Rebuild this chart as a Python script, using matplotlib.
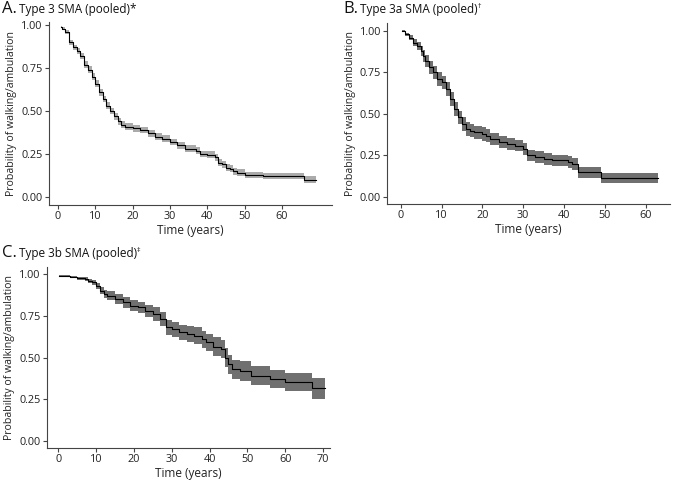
import numpy as np
import matplotlib
matplotlib.use("Agg")
import matplotlib.pyplot as plt

plt.rcParams['font.family'] = ['Open Sans', 'DejaVu Sans']

# Kaplan-Meier estimates (time, survival, CI half width)
# Panel A: Type 3 SMA (pooled)
a_time = [0.8, 1, 2, 3, 4, 5, 6, 7, 8, 9, 10, 11, 12, 13, 14, 15, 16, 17, 18, 20,
          22, 24, 26, 28, 30, 32, 34, 36, 37, 38, 40, 42, 43, 44, 45, 46, 47, 48,
          50, 55, 66]
a_surv = [0.99, 0.98, 0.96, 0.90, 0.87, 0.85, 0.82, 0.77, 0.74, 0.70, 0.66, 0.61,
          0.57, 0.53, 0.50, 0.47, 0.44, 0.42, 0.41, 0.40, 0.39, 0.37, 0.35, 0.34,
          0.32, 0.30, 0.28, 0.28, 0.27, 0.25, 0.245, 0.23, 0.20, 0.19, 0.17, 0.165,
          0.15, 0.14, 0.13, 0.12, 0.10]
a_half = [0.005, 0.008, 0.01, 0.015, 0.015, 0.018, 0.018, 0.02, 0.02, 0.02, 0.02,
          0.02, 0.02, 0.02, 0.02, 0.02, 0.02, 0.02, 0.02, 0.02, 0.02, 0.02, 0.02,
          0.02, 0.02, 0.02, 0.02, 0.02, 0.02, 0.02, 0.02, 0.02, 0.02, 0.02, 0.02,
          0.02, 0.02, 0.02, 0.018, 0.018, 0.02]
a_end = 69

# Panel B: Type 3a SMA (pooled)
b_time = [0.2, 1, 2, 3, 4, 5, 5.5, 6, 7, 8, 9, 10, 11, 12, 13, 14, 15, 16, 17, 18,
          20, 21, 22, 24, 26, 28, 30, 31, 33, 35, 37, 40, 41, 42, 43.5, 49]
b_surv = [1.00, 0.98, 0.96, 0.93, 0.91, 0.88, 0.85, 0.82, 0.78, 0.75, 0.71, 0.69,
          0.65, 0.59, 0.53, 0.48, 0.44, 0.41, 0.40, 0.39, 0.38, 0.37, 0.35, 0.33,
          0.32, 0.31, 0.29, 0.25, 0.24, 0.23, 0.22, 0.22, 0.21, 0.20, 0.15, 0.115]
b_half = [0.005, 0.01, 0.015, 0.02, 0.025, 0.03, 0.035, 0.035, 0.04, 0.04, 0.04,
          0.04, 0.04, 0.04, 0.04, 0.04, 0.04, 0.04, 0.04, 0.04, 0.04, 0.04, 0.035,
          0.035, 0.035, 0.035, 0.035, 0.035, 0.035, 0.035, 0.035, 0.035, 0.035,
          0.035, 0.033, 0.028]
b_end = 63

# Panel C: Type 3b SMA (pooled)
c_time = [0.3, 3, 5, 7, 8, 9, 10, 11, 12, 13, 15, 17, 19, 21, 23, 25, 27, 28.5, 30,
          32, 34, 36, 38, 39, 41, 43, 44, 45, 46, 48, 51, 56, 60, 67]
c_surv = [0.99, 0.985, 0.975, 0.97, 0.96, 0.95, 0.93, 0.90, 0.88, 0.87, 0.85, 0.83,
          0.81, 0.80, 0.78, 0.76, 0.73, 0.68, 0.67, 0.65, 0.64, 0.63, 0.61, 0.59,
          0.565, 0.55, 0.50, 0.46, 0.43, 0.42, 0.39, 0.37, 0.355, 0.315]
c_half = [0.003, 0.006, 0.008, 0.01, 0.012, 0.015, 0.018, 0.022, 0.025, 0.027,
          0.03, 0.032, 0.034, 0.035, 0.037, 0.04, 0.042, 0.045, 0.045, 0.047, 0.048,
          0.05, 0.05, 0.052, 0.055, 0.055, 0.058, 0.058, 0.058, 0.058, 0.057, 0.055,
          0.055, 0.065]
c_end = 70.5

ylabel = "Probability of walking/ambulation"
xlabel = "Time (years)"
yticks = [0, 0.25, 0.5, 0.75, 1.0]

fig = plt.figure(figsize=(6.73, 4.82), dpi=100)

def km_panel(rect, t, s, h, tend, band, xlim, ylim, xticks):
    ax = fig.add_axes(rect)
    t = np.append(t, tend)
    s = np.append(s, s[-1])
    h = np.append(h, h[-1])
    ax.fill_between(t, s - h, s + h, step="post", color=band, linewidth=0)
    ax.step(t, s, where="post", color="black", linewidth=0.8)
    ax.set_xlim(*xlim)
    ax.set_ylim(*ylim)
    ax.set_xticks(xticks)
    ax.set_yticks(yticks)
    ax.set_yticklabels(["%.2f" % v for v in yticks])
    for side in ["top", "right"]:
        ax.spines[side].set_visible(False)
    for side in ["left", "bottom"]:
        ax.spines[side].set_color("#444444")
        ax.spines[side].set_linewidth(0.8)
    ax.tick_params(axis="both", labelsize=7.8, colors="#222222", length=3,
                   width=0.8, color="#444444", pad=1.5)
    ax.set_xlabel(xlabel, fontsize=8.5, color="#222222", labelpad=1.5)
    ax.set_ylabel(ylabel, fontsize=7.6, color="#222222", labelpad=3)
    return ax

km_panel([0.0728, 0.5747, 0.4205, 0.3793], a_time, a_surv, a_half, a_end,
         "#ababab", (-2.4, 73.4), (-0.0465, 1.017), range(0, 61, 10))
km_panel([0.5755, 0.5768, 0.4195, 0.3755], b_time, b_surv, b_half, b_end,
         "#707070", (-3.28, 65.9), (-0.042, 1.048), range(0, 61, 10))
km_panel([0.0694, 0.0705, 0.4206, 0.3762], c_time, c_surv, c_half, c_end,
         "#707070", (-3.05, 71.8), (-0.042, 1.044), range(0, 71, 10))

# panel titles
renderer = fig.canvas.get_renderer()
titles = [(2, 9, "A.", "Type 3 SMA (pooled)*", ""),
          (343, 9, "B.", "Type 3a SMA (pooled)", "\u2020"),
          (2, 253, "C.", "Type 3b SMA (pooled)", "\u2021")]
for x, y, letter, text, mark in titles:
    t1 = fig.text(x / 673, 1 - y / 482, letter, fontsize=12, va="center",
                  ha="left", color="#111111")
    e1 = t1.get_window_extent(renderer)
    t2 = fig.text(e1.x1 / 673 + 0.003, 1 - (y + 1) / 482, text, fontsize=8.5,
                  va="center", ha="left", color="#111111")
    if mark:
        e2 = t2.get_window_extent(renderer)
        fig.text(e2.x1 / 673, 1 - (y - 3) / 482, mark, fontsize=5,
                 va="center", ha="left", color="#111111")

fig.savefig("out.png", dpi=100)
